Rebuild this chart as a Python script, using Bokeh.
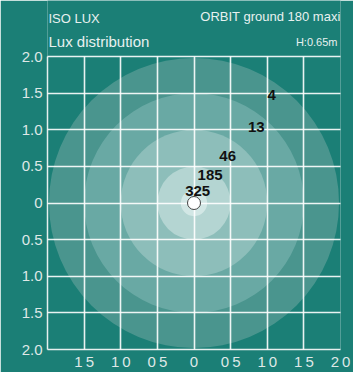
from bokeh.plotting import figure
from bokeh.models import FixedTicker, ColumnDataSource, Label
from bokeh.core.properties import value
from bokeh.embed import file_html
from bokeh.resources import INLINE

# ---- data ----
lux_levels = ["4", "13", "46", "185", "325"]
radii_m = [1.98, 1.5, 1.0, 0.5, 0.18]
label_x = [1.06, 0.85, 0.46, 0.22, 0.05]
label_y = [1.47, 1.04, 0.64, 0.38, 0.17]
ring_colors = ["#4a958e", "#69a9a4", "#8dbeba", "#b4d5d2", "#d2e7e5"]
ticks = [-2.0, -1.5, -1.0, -0.5, 0.0, 0.5, 1.0, 1.5, 2.0]
x_tick_labels = ["", "1\u20095", "1\u20090", "0\u20095", "0", "0\u20095", "1\u20090", "1\u20095", "2\u20090"]
y_tick_labels = ["2.0", "1.5", "1.0", "0.5", "0", "0.5", "1.0", "1.5", "2.0"]
source_x = [0.0]
source_y = [0.0]

BG = "#1b7f76"
FONT = "Liberation Sans"
TXT = "#e8f1f0"

W, H = 353, 372
LEFT, RIGHT, BOTTOM = 47, 13, 23
HEADER_PX = 56                      # space above the grid, inside the frame
px_per_unit = (W - LEFT - RIGHT) / 4.0
y_top = 2.0 + HEADER_PX / px_per_unit

p = figure(width=W, height=H, x_range=(-2, 2), y_range=(-2, y_top),
           output_backend="svg", toolbar_location=None,
           min_border_left=LEFT, min_border_right=RIGHT, min_border_top=0, min_border_bottom=BOTTOM)
p.background_fill_color = BG
p.border_fill_color = BG
p.outline_line_color = None

# iso-lux discs
discs = ColumnDataSource(dict(x=[0.0] * len(radii_m), y=[0.0] * len(radii_m), r=radii_m, c=ring_colors))
p.circle(x="x", y="y", radius="r", fill_color="c", line_color=None, source=discs)

# grid
for g in (p.xgrid, p.ygrid):
    g.ticker = FixedTicker(ticks=ticks)
    g.grid_line_color = "white"
    g.grid_line_alpha = 0.9
    g.grid_line_width = 1.6
    g.level = "guide"
    g.bounds = (-2, 2)
    g.cross_bounds = (-2, 2)

# axes
p.xaxis.ticker = FixedTicker(ticks=ticks)
p.yaxis.ticker = FixedTicker(ticks=ticks)
p.yaxis.bounds = (-2, 2)
p.xaxis.major_label_overrides = {t: l for t, l in zip(ticks, x_tick_labels)}
p.yaxis.major_label_overrides = {t: l for t, l in zip(ticks, y_tick_labels)}
for ax in (p.xaxis, p.yaxis):
    ax.axis_line_color = "#e6efee"
    ax.axis_line_width = 1.5
    ax.major_tick_line_color = None
    ax.minor_tick_line_color = None
    ax.major_tick_out = 0
    ax.major_tick_in = 0
    ax.major_label_text_color = "#dfe8e7"
    ax.major_label_text_font = FONT
    ax.major_label_text_font_size = "15px"
p.xaxis.major_label_standoff = 3
p.yaxis.major_label_standoff = 5

# source point
p.scatter(x=source_x, y=source_y, size=13, fill_color="white", line_color="#444444",
          line_width=1, level="overlay")

# lux value labels
lab = ColumnDataSource(dict(x=label_x, y=label_y, t=lux_levels))
p.text(x="x", y="y", text="t", source=lab, text_align="center", text_baseline="middle",
       text_font=value(FONT), text_font_style="bold", text_font_size="15px",
       text_color="#111111", level="overlay")

# header texts (screen px measured from the frame's bottom-left corner)
frame_bottom = H - BOTTOM
def hdr(text, page_x, page_y, size, align):
    p.add_layout(Label(x=page_x - LEFT, y=frame_bottom - page_y, x_units="screen", y_units="screen",
                       text=text, text_font=FONT, text_font_size=size, text_color=TXT,
                       text_align=align, text_baseline="middle"))

hdr("ISO LUX", 48, 18, "13px", "left")
hdr("Lux distribution", 48, 40.5, "15px", "left")
hdr("ORBIT ground 180 maxi", 340, 16, "13px", "right")
hdr("H:0.65m", 337, 41.5, "11px", "right")

open("out.html", "w").write(file_html(p, INLINE))
